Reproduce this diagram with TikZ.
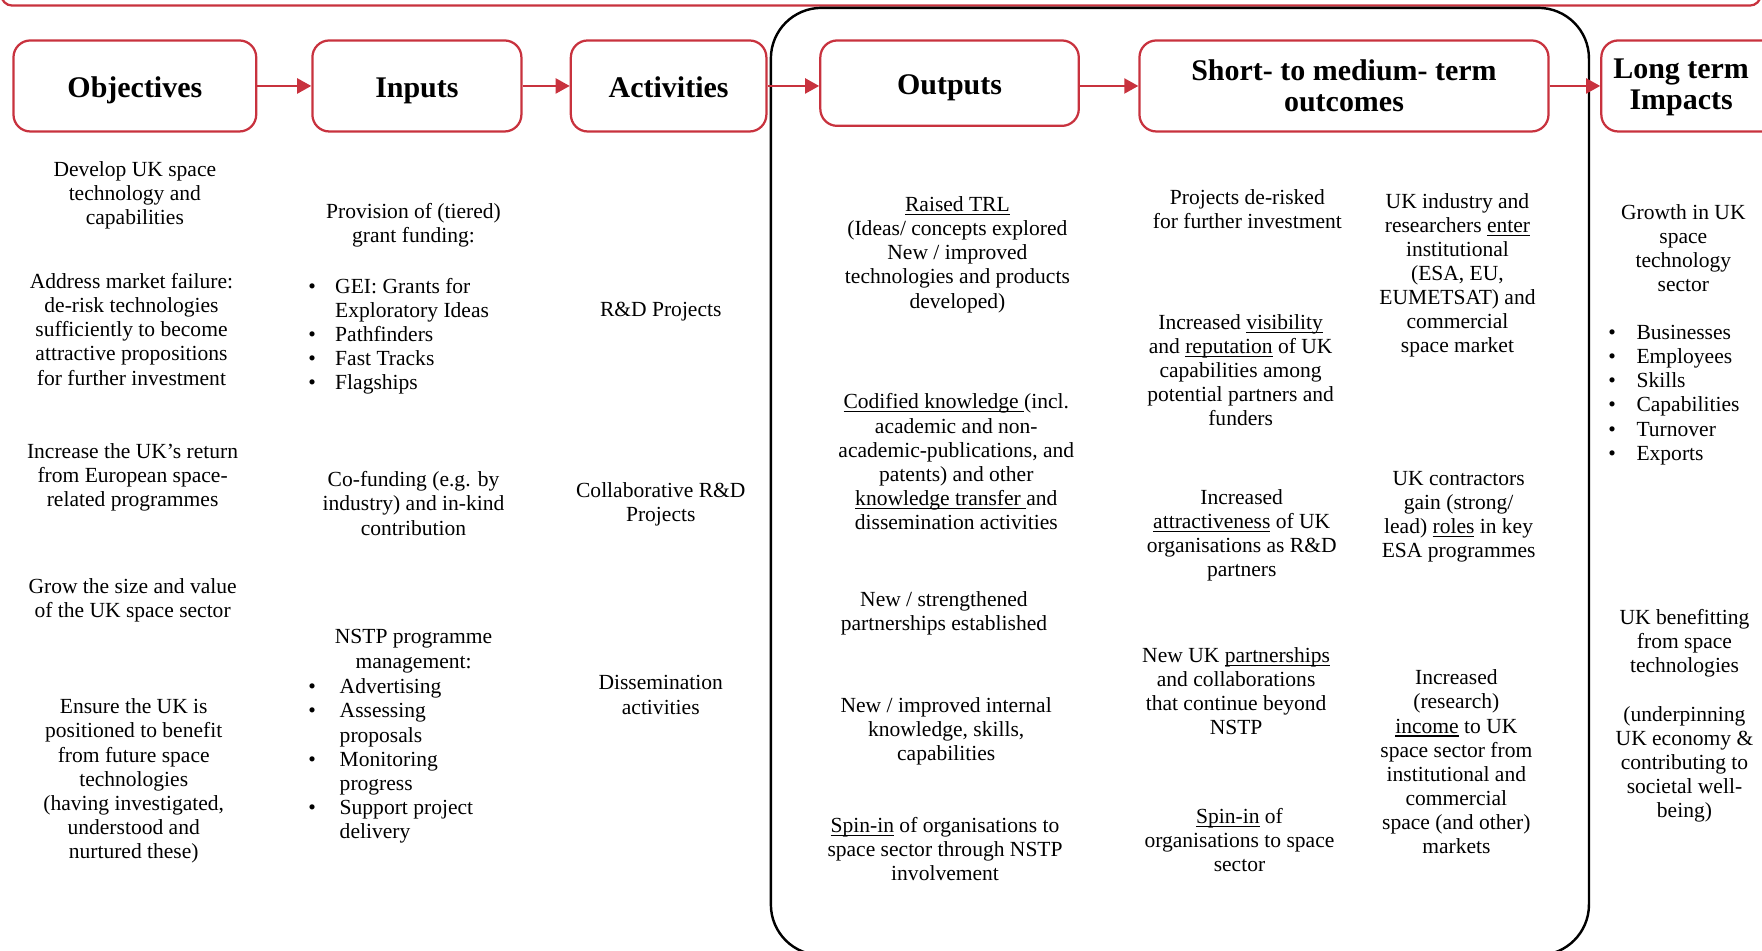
\documentclass[tikz,border=0pt]{standalone}
\usepackage{fontspec}
\setmainfont{Liberation Serif}
\usetikzlibrary{arrows.meta}
\definecolor{nstpred}{RGB}{200,50,62}
\newcommand{\undl}[1]{\setbox0\hbox{#1}\rlap{\rule[-1.9pt]{\wd0}{0.6pt}}\box0\relax}
\tikzset{
    hdr/.style={draw=nstpred, line width=1.2pt, rounded corners=9pt, align=center, minimum height=48.6pt, font=\fontsize{16}{16.5}\selectfont\bfseries},
    hdrone/.style={hdr, text height=15pt, text depth=2.5pt},
    txt/.style={align=center, inner sep=0pt, font=\fontsize{11.5}{12.9}\selectfont},
    lst/.style={anchor=west, inner sep=0pt, font=\fontsize{11.5}{12.9}\selectfont},
    flow/.style={draw=nstpred, line width=1.2pt, -{Triangle[length=7.5pt,width=8pt]}}
}
\begin{document}
\begin{tikzpicture}[x=0.6pt, y=-0.6pt]
        \useasboundingbox (0,0) rectangle (1568,846);
        \clip (0,0) rectangle (1568,846);
        \draw [nstpred, line width=1.2pt, rounded corners=6pt] (1,-40) -- (1,5) -- (1567,5) -- (1567,-40);
        \draw [line width=1.3pt, rounded corners=27pt] (686,7) rectangle (1414,850);
        % column headers
        \node [hdrone, minimum width=129.6pt] (obj) at (120,76.5) {Objectives};
        \node [hdrone, minimum width=111.6pt] (inp) at (371,76.5) {Inputs};
        \node [hdrone, minimum width=104.4pt] (act) at (595,76.5) {Activities};
        \node [hdrone, minimum width=138pt, minimum height=45.6pt] (out) at (845,74) {Outputs};
        \node [hdr, minimum width=218.4pt] (smt) at (1196,76.5) {Short- to medium- term\\outcomes};
        \node [hdr, minimum width=105pt] (lti) at (1512.5,76.5) {};
        \node [txt, font=\fontsize{16}{16.5}\selectfont\bfseries] (ltitxt) at (1496,78) {Long term\\Impacts};
        \draw [flow] (obj) -- (inp);
        \draw [flow] (inp) -- (act);
        \draw [flow] (act.east) -- (act.east -| out.west);
        \draw [flow] (out.east |- smt.west) -- (smt.west);
        \draw [flow] (smt) -- (lti);
        % objectives
        \node [txt] (obj1) at (120,174) {Develop UK space\\technology and\\capabilities};
        \node [txt] (obj2) at (117,293) {Address market failure:\\de-risk technologies\\sufficiently to become\\attractive propositions\\for further investment};
        \node [txt] (obj3) at (118,424.5) {Increase the UK’s return\\from European space-\\related programmes};
        \node [txt] (obj4) at (118,534.5) {Grow the size and value\\of the UK space sector};
        \node [txt] (obj5) at (119,695) {Ensure the UK is\\positioned to benefit\\from future space\\technologies\\(having investigated,\\understood and\\nurtured these)};
        % inputs
        \node [txt] (inp1) at (368,200.5) {Provision of (tiered)\\grant funding:};
        \node [lst] (inp2) at (274,299.5) {\begin{tabular}{@{}p{14.4pt}@{}l@{}}
            \textbullet & GEI: Grants for\\ & Exploratory Ideas\\ \textbullet & Pathfinders\\ \textbullet & Fast Tracks\\ \textbullet & Flagships
        \end{tabular}};
        \node [txt] (inp3) at (368,448) {Co-funding (e.g. by\\industry) and in-kind\\contribution};
        \node [txt] (inp4) at (368,579.5) {NSTP programme\\management:};
        \node [lst] (inp5) at (274,677.5) {\begin{tabular}{@{}p{16.8pt}@{}l@{}}
            \textbullet & Advertising\\ \textbullet & Assessing\\ & proposals\\ \textbullet & Monitoring\\ & progress\\ \textbullet & Support project\\ & delivery
        \end{tabular}};
        % activities
        \node [txt] (act1) at (588,277) {R\&D Projects};
        \node [txt] (act2) at (588,448.5) {Collaborative R\&D\\Projects};
        \node [txt] (act3) at (588,618.5) {Dissemination\\activities};
        % outputs
        \node [txt] (out1) at (852,226.5) {\undl{Raised TRL}\\(Ideas/ concepts explored\\New / improved\\technologies and products\\developed)};
        \node [txt] (out2) at (851,411) {\undl{Codified knowledge }(incl.\\academic and non-\\academic-publications, and\\patents) and other\\\undl{knowledge transfer }and\\dissemination activities};
        \node [txt] (out3) at (840,545.5) {New / strengthened\\partnerships established};
        \node [txt] (out4) at (842,651) {New / improved internal\\knowledge, skills,\\capabilities};
        \node [txt] (out5) at (841,755.5) {\undl{Spin-in} of organisations to\\space sector through NSTP\\involvement};
        % short- to medium-term outcomes
        \node [txt] (smt1) at (1110,186) {Projects de-risked\\for further investment};
        \node [txt] (smt2) at (1104,329.5) {Increased \undl{visibility}\\and \undl{reputation} of UK\\capabilities among\\potential partners and\\funders};
        \node [txt] (smt3) at (1105,476.5) {Increased\\\undl{attractiveness} of UK\\organisations as R\&D\\partners};
        \node [txt] (smt4) at (1100,615) {New UK \undl{partnerships}\\and collaborations\\that continue beyond\\NSTP};
        \node [txt] (smt5) at (1103,747.5) {\undl{Spin-in} of\\organisations to space\\sector};
        \node [txt] (smt6) at (1297,245) {UK industry and\\researchers \undl{enter}\\institutional\\(ESA, EU,\\EUMETSAT) and\\commercial\\space market};
        \node [txt] (smt7) at (1298,460) {UK contractors\\gain (strong/\\lead) \undl{roles} in key\\ESA programmes};
        \node [txt] (smt8) at (1296,678) {Increased\\(research)\\\undl{income} to UK\\space sector from\\institutional and\\commercial\\space (and other)\\markets};
        % long term impacts
        \node [txt] (lti1) at (1498,221) {Growth in UK\\space\\technology\\sector};
        \node [lst] (lti2) at (1431,351.5) {\begin{tabular}{@{}p{15pt}@{}l@{}}
            \textbullet & Businesses\\ \textbullet & Employees\\ \textbullet & Skills\\ \textbullet & Capabilities\\ \textbullet & Turnover\\ \textbullet & Exports
        \end{tabular}};
        \node [txt] (lti3) at (1499,637) {UK benefitting\\from space\\technologies\\[12.9pt](underpinning\\UK economy \&\\contributing to\\societal well-\\being)};
\end{tikzpicture}
\end{document}
